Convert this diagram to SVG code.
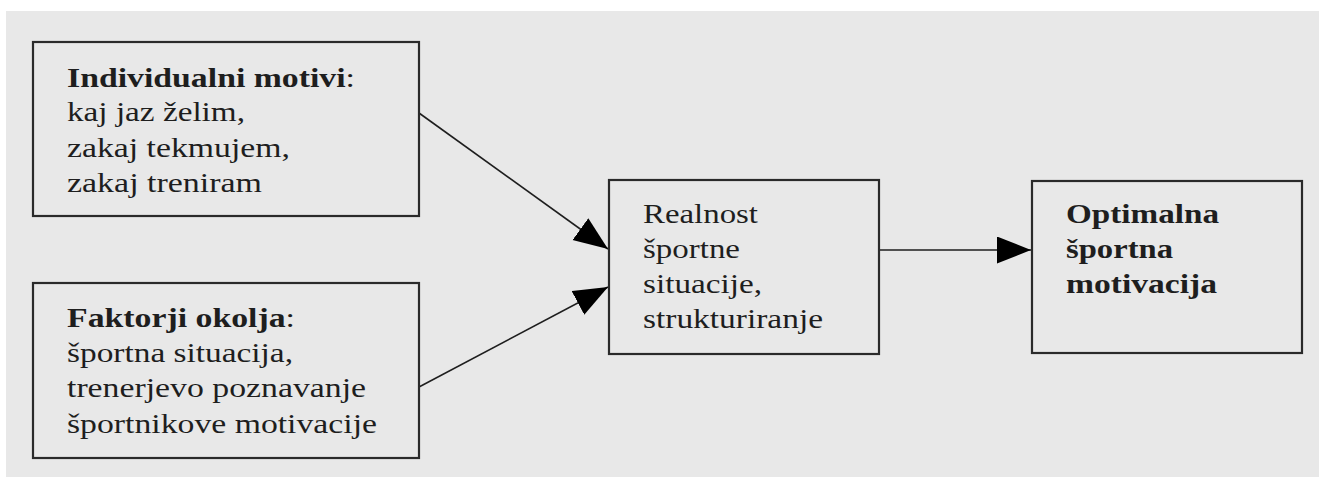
<svg xmlns="http://www.w3.org/2000/svg" width="1319" height="477" viewBox="0 0 1319 477">
<style>
.box{fill:#e8e8e8;stroke:#2a2a2a;stroke-width:2.2}
.t{font-family:"Liberation Serif","Times New Roman",serif;font-size:28px;fill:#1e1e1e}
.b{font-weight:bold}
.conn{stroke:#1e1e1e;stroke-width:1.6;fill:none}
</style>
<defs>
<marker id="ah" markerUnits="userSpaceOnUse" markerWidth="36" markerHeight="28" refX="34" refY="13.5" orient="auto">
<path d="M0,0 L34,13.5 L0,27 z" fill="#000"/>
</marker>
</defs>
<rect x="0" y="0" width="1319" height="477" fill="#ffffff"/>
<rect x="6" y="11" width="1313" height="466" fill="#e8e8e8"/>
<g id="connectors">
<line class="conn" x1="419" y1="113" x2="608" y2="249" marker-end="url(#ah)"/>
<line class="conn" x1="419" y1="387" x2="608" y2="287" marker-end="url(#ah)"/>
<line class="conn" x1="879" y1="250" x2="1031" y2="250" marker-end="url(#ah)"/>
</g>
<g id="node-individualni">
<rect class="box" x="33" y="42" width="386" height="174"/>
<text class="t b" x="67" y="87" textLength="288" lengthAdjust="spacingAndGlyphs">Individualni motivi<tspan font-weight="normal">:</tspan></text>
<text class="t" x="67" y="121" textLength="178" lengthAdjust="spacingAndGlyphs">kaj jaz želim,</text>
<text class="t" x="67" y="157" textLength="223" lengthAdjust="spacingAndGlyphs">zakaj tekmujem,</text>
<text class="t" x="67" y="192" textLength="195" lengthAdjust="spacingAndGlyphs">zakaj treniram</text>
</g>
<g id="node-faktorji">
<rect class="box" x="33" y="283" width="386" height="175"/>
<text class="t b" x="67" y="327" textLength="228" lengthAdjust="spacingAndGlyphs">Faktorji okolja<tspan font-weight="normal">:</tspan></text>
<text class="t" x="67" y="362" textLength="226" lengthAdjust="spacingAndGlyphs">športna situacija,</text>
<text class="t" x="67" y="397" textLength="299" lengthAdjust="spacingAndGlyphs">trenerjevo poznavanje</text>
<text class="t" x="67" y="433" textLength="310" lengthAdjust="spacingAndGlyphs">športnikove motivacije</text>
</g>
<g id="node-realnost">
<rect class="box" x="609" y="180" width="270" height="174"/>
<text class="t" x="643" y="223" textLength="115" lengthAdjust="spacingAndGlyphs">Realnost</text>
<text class="t" x="643" y="258" textLength="97" lengthAdjust="spacingAndGlyphs">športne</text>
<text class="t" x="643" y="293" textLength="119" lengthAdjust="spacingAndGlyphs">situacije,</text>
<text class="t" x="643" y="328" textLength="180" lengthAdjust="spacingAndGlyphs">strukturiranje</text>
</g>
<g id="node-optimalna">
<rect class="box" x="1032" y="181" width="270" height="172"/>
<text class="t b" x="1066" y="223" textLength="153" lengthAdjust="spacingAndGlyphs">Optimalna</text>
<text class="t b" x="1066" y="258" textLength="107" lengthAdjust="spacingAndGlyphs">športna</text>
<text class="t b" x="1066" y="293" textLength="151" lengthAdjust="spacingAndGlyphs">motivacija</text>
</g>
</svg>
